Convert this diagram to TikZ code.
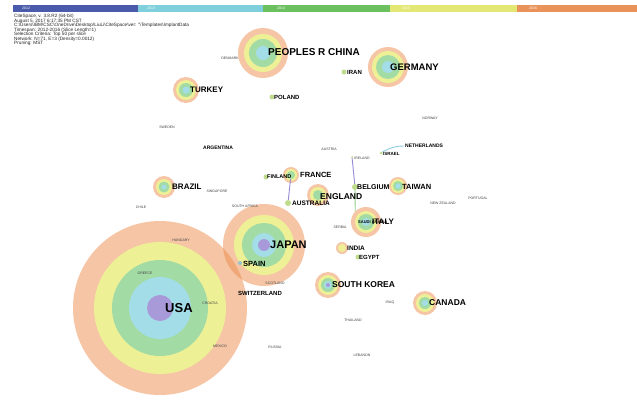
\documentclass[tikz,border=0pt]{standalone}
\usepackage{fontspec}
\setmainfont{Liberation Sans}
\definecolor{peachbase}{RGB}{237,141,77}
\definecolor{ringyellow}{RGB}{238,240,150}
\definecolor{ringgreen}{RGB}{163,219,165}
\definecolor{ringcyan}{RGB}{163,221,232}
\definecolor{ringpurple}{RGB}{168,154,216}
\definecolor{barblue}{RGB}{75,91,171}
\definecolor{barcyan}{RGB}{127,208,220}
\definecolor{bargreen}{RGB}{108,192,96}
\definecolor{baryellow}{RGB}{227,232,116}
\definecolor{barorange}{RGB}{233,146,90}
\definecolor{dotgreen}{RGB}{190,220,140}
\definecolor{edgepurple}{RGB}{150,138,215}
\definecolor{edgegreen}{RGB}{150,205,140}
\definecolor{edgecyan}{RGB}{140,205,225}
\tikzset{
  pch/.style={circle,inner sep=0pt,draw=none,minimum size=#1*2pt,fill=peachbase,fill opacity=0.5},
  ylw/.style={circle,inner sep=0pt,draw=none,minimum size=#1*2pt,fill=ringyellow},
  grn/.style={circle,inner sep=0pt,draw=none,minimum size=#1*2pt,fill=ringgreen},
  cyn/.style={circle,inner sep=0pt,draw=none,minimum size=#1*2pt,fill=ringcyan},
  prp/.style={circle,inner sep=0pt,draw=none,minimum size=#1*2pt,fill=ringpurple},
  dot/.style={circle,inner sep=0pt,draw=none,minimum size=5pt,fill=dotgreen},
  lab/.style={anchor=west,inner sep=0pt,text=black,font=\bfseries\fontsize{#1}{#1}\selectfont},
  tiny/.style={inner sep=0pt,text=black!75,font=\fontsize{3.5}{3.5}\selectfont},
  barseg/.style={draw=none,fill=#1},
  barlab/.style={anchor=west,inner sep=0pt,text=white,font=\fontsize{3.5}{3.5}\selectfont},
  edgeP/.style={draw=edgepurple,line width=0.9pt},
  edgeG/.style={draw=edgegreen,line width=0.9pt},
  edgeC/.style={draw=edgecyan,line width=0.9pt}
}
\begin{document}
\begin{tikzpicture}[x=1pt,y=-1pt]
\useasboundingbox (0,0) rectangle (637,399);
\fill[white] (0,0) rectangle (637,399);
% colour bar
\path[barseg=barblue]   (13,5) rectangle (138,12);
\path[barseg=barcyan]   (138,5) rectangle (263,12);
\path[barseg=bargreen]  (263,5) rectangle (390,12);
\path[barseg=baryellow] (390,5) rectangle (517,12);
\path[barseg=barorange] (517,5) rectangle (637,12);
\node[barlab] (y1) at (22,8.5) {2012};
\node[barlab] (y2) at (147,8.5) {2013};
\node[barlab] (y3) at (277,8.5) {2014};
\node[barlab] (y4) at (402,8.5) {2015};
\node[barlab] (y5) at (529,8.5) {2016};
% header
\node[anchor=north west,inner sep=0pt,align=left,text=black!85,font=\fontsize{4.7}{4.5}\selectfont] (hdr) at (14,14)
{CiteSpace, v. 3.8.R2 (64-bit)\\
August 5, 2017 6:17:35 PM CST\\
C:\textbackslash Users\textbackslash IBM\textbackslash CSC\textbackslash OneDrive\textbackslash Desktop\textbackslash LiuLi\textbackslash CiteSpace\textbackslash ver: "\textbackslash Templates\textbackslash ImplantData\\
Timespan: 2012-2016 (Slice Length=1)\\
Selection Criteria: Top 50 per slice\\
Network: N=71, E=3 (Density=0.0012)\\
Pruning: MST};
% peach outer rings (translucent)
\node[pch=87] (usa-o) at (160,308) {};
\node[pch=41] (jpn-o) at (264,245) {};
\node[pch=25] (chn-o) at (263,53) {};
\node[pch=20] (ger-o) at (388,67) {};
\node[pch=13] (tur-o) at (186,90) {};
\node[pch=11] (bra-o) at (164,187) {};
\node[pch=8]  (fra-o) at (291,175) {};
\node[pch=11] (eng-o) at (318,195) {};
\node[pch=15] (ita-o) at (366,222) {};
\node[pch=9]  (twn-o) at (398,186) {};
\node[pch=13] (kor-o) at (328,285) {};
\node[pch=12] (can-o) at (425,303) {};
\node[pch=6]  (ind-o) at (342,248) {};
% USA
\node[ylw=66] (usa-y) at (160,308) {};
\node[grn=48] (usa-g) at (160,308) {};
\node[cyn=31] (usa-c) at (160,308) {};
\node[prp=13] (usa) at (160,308) {};
% JAPAN
\node[ylw=30] (jpn-y) at (264,245) {};
\node[grn=22] (jpn-g) at (264,245) {};
\node[cyn=12] (jpn-c) at (264,245) {};
\node[prp=6] (jpn) at (264,245) {};
% CHINA
\node[ylw=19] (chn-y) at (263,53) {};
\node[grn=14] (chn-g) at (263,53) {};
\node[cyn=7] (chn) at (263,53) {};
% GERMANY
\node[ylw=16] (ger-y) at (388,67) {};
\node[grn=12] (ger-g) at (388,67) {};
\node[cyn=6] (ger) at (388,67) {};
% TURKEY
\node[ylw=10] (tur-y) at (186,90) {};
\node[grn=7] (tur-g) at (186,90) {};
\node[cyn=3.5] (tur) at (186,90) {};
% BRAZIL
\node[ylw=8] (bra-y) at (164,187) {};
\node[grn=5.5] (bra-g) at (164,187) {};
\node[cyn=2.5] (bra) at (164,187) {};
% FRANCE
\node[ylw=6] (fra-y) at (291,175) {};
\node[grn=4] (fra) at (291,175) {};
% ENGLAND
\node[ylw=8] (eng-y) at (318,195) {};
\node[grn=5] (eng) at (318,195) {};
% ITALY
\node[ylw=11] (ita-y) at (366,222) {};
\node[grn=8] (ita-g) at (366,222) {};
\node[cyn=4] (ita) at (366,222) {};
% TAIWAN
\node[ylw=7] (twn-y) at (398,186) {};
\node[grn=5] (twn-g) at (398,186) {};
\node[cyn=2.5] (twn) at (398,186) {};
% SOUTH KOREA
\node[ylw=10] (kor-y) at (328,285) {};
\node[grn=7] (kor-g) at (328,285) {};
\node[cyn=4] (kor-c) at (328,285) {};
\node[prp=2] (kor) at (328,285) {};
% CANADA
\node[ylw=9] (can-y) at (425,303) {};
\node[grn=6] (can-g) at (425,303) {};
\node[cyn=3] (can) at (425,303) {};
% INDIA
\node[ylw=4] (ind) at (342,248) {};
% small nodes
\node[dot] (pol) at (272,97) {};
\node[dot] (irn) at (344,72) {};
\node[dot] (fin) at (266,177) {};
\node[dot,minimum size=6pt] (aus) at (288,203) {};
\node[dot,minimum size=6pt] (bel) at (355,187) {};
\node[dot] (egy) at (358,257) {};
\node[dot,minimum size=3pt] (isr) at (381,153) {};
\node[dot,minimum size=4pt,fill=ringcyan!70!gray] (esp) at (240,263) {};
\node[dot,minimum size=2pt] (top) at (352,157) {};
\coordinate (ned) at (404,146);
% edges
\draw[edgeP] (fra) -- (aus);
\draw[edgeP] (top) -- (bel);
\draw[edgeG] (bel) -- (ita-o.north west);
\draw[edgeC] (isr) to[bend left=15] (ned);
% main labels
\node[lab=10] (l-chn) at (268,52) {PEOPLES R CHINA};
\node[lab=9.5] (l-ger) at (390,67) {GERMANY};
\node[lab=6] (l-irn) at (347,72) {IRAN};
\node[lab=8] (l-tur) at (190,90) {TURKEY};
\node[lab=6] (l-pol) at (274,97) {POLAND};
\node[lab=5] (l-arg) at (203,148) {ARGENTINA};
\node[lab=5] (l-ned) at (405,146) {NETHERLANDS};
\node[lab=4.5] (l-isr) at (383,154) {ISRAEL};
\node[lab=5.5] (l-fin) at (267,177) {FINLAND};
\node[lab=7.5] (l-fra) at (300,175) {FRANCE};
\node[lab=8] (l-bra) at (172,187) {BRAZIL};
\node[lab=7] (l-bel) at (357,187) {BELGIUM};
\node[lab=7.5] (l-twn) at (402,187) {TAIWAN};
\node[lab=4] (l-sau) at (358,222) {SAUDI ARABIA};
\node[lab=8.5] (l-eng) at (320,197) {ENGLAND};
\node[lab=6.5] (l-aus) at (292,203) {AUSTRALIA};
\node[lab=8] (l-ita) at (372,222) {ITALY};
\node[lab=11] (l-jpn) at (270,245) {JAPAN};
\node[lab=6.5] (l-ind) at (347,248) {INDIA};
\node[lab=6] (l-egy) at (359,257) {EGYPT};
\node[lab=7.5] (l-esp) at (243,264) {SPAIN};
\node[lab=6] (l-sui) at (238,293) {SWITZERLAND};
\node[lab=8.5] (l-kor) at (332,285) {SOUTH KOREA};
\node[lab=8.5] (l-can) at (429,303) {CANADA};
\node[lab=13] (l-usa) at (165,308) {USA};
% tiny labels
\node[tiny] (t1) at (230,58) {DENMARK};
\node[tiny] (t2) at (430,118) {NORWAY};
\node[tiny] (t3) at (167,127) {SWEDEN};
\node[tiny] (t4) at (329,149) {AUSTRIA};
\node[tiny] (t5) at (362,158) {IRELAND};
\node[tiny] (t6) at (217,191) {SINGAPORE};
\node[tiny] (t7) at (245,206) {SOUTH AFRICA};
\node[tiny] (t8) at (141,207) {CHILE};
\node[tiny] (t9) at (340,227) {SERBIA};
\node[tiny] (t10) at (443,203) {NEW ZEALAND};
\node[tiny] (t11) at (478,198) {PORTUGAL};
\node[tiny] (t12) at (181,240) {HUNGARY};
\node[tiny] (t13) at (145,273) {GREECE};
\node[tiny] (t14) at (210,303) {CROATIA};
\node[tiny] (t15) at (220,346) {MEXICO};
\node[tiny] (t16) at (275,347) {RUSSIA};
\node[tiny] (t17) at (275,283) {SCOTLAND};
\node[tiny] (t18) at (390,303) {IRAQ};
\node[tiny] (t19) at (353,320) {THAILAND};
\node[tiny] (t20) at (362,355) {LEBANON};
\end{tikzpicture}
\end{document}
